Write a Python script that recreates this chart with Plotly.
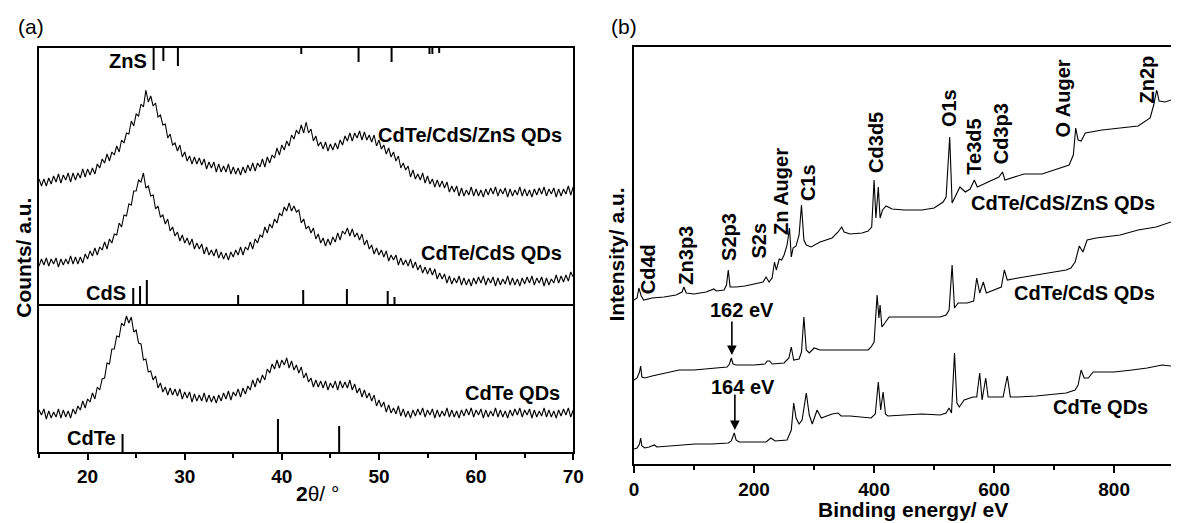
import numpy as np
import plotly.graph_objects as go

FONT = "Liberation Sans, Arial, Helvetica, sans-serif"

# ---------------- Panel (a): XRD (2theta step 0.25 deg, one row per degree) ----------------
two_theta = np.arange(15.0, 70.001, 0.25)

xrd_cdte_cds_zns = [
    125, 118, 125, 118,   # 15
    126, 120, 128, 122,   # 16
    130, 121, 129, 124,   # 17
    131, 122, 131, 124,   # 18
    131, 126, 135, 127,   # 19
    135, 129, 136, 130,   # 20
    140, 136, 145, 141,   # 21
    150, 143, 152, 149,   # 22
    158, 152, 164, 161,   # 23
    171, 170, 183, 178,   # 24
    190, 188, 200, 197,   # 25
    214, 202, 208, 198,   # 26
    201, 187, 189, 179,   # 27
    180, 166, 170, 159,   # 28
    161, 153, 159, 147,   # 29
    152, 143, 148, 140,   # 30
    147, 140, 146, 139,   # 31
    145, 135, 142, 136,   # 32
    142, 132, 140, 132,   # 33
    138, 132, 140, 130,   # 34
    137, 130, 136, 129,   # 35
    137, 131, 139, 133,   # 36
    141, 133, 141, 137,   # 37
    145, 137, 147, 141,   # 38
    149, 146, 156, 149,   # 39
    159, 154, 163, 158,   # 40
    169, 165, 174, 170,   # 41
    179, 171, 182, 171,   # 42
    175, 163, 168, 158,   # 43
    162, 155, 162, 153,   # 44
    160, 154, 161, 155,   # 45
    164, 159, 168, 163,   # 46
    171, 163, 171, 166,   # 47
    173, 164, 172, 164,   # 48
    169, 162, 169, 158,   # 49
    164, 155, 159, 150,   # 50
    156, 147, 152, 143,   # 51
    148, 136, 141, 134,   # 52
    138, 127, 134, 125,   # 53
    130, 124, 131, 121,   # 54
    128, 120, 125, 117,   # 55
    124, 117, 123, 116,   # 56
    122, 112, 118, 112,   # 57
    118, 108, 116, 108,   # 58
    114, 109, 117, 108,   # 59
    115, 108, 114, 107,   # 60
    115, 109, 116, 110,   # 61
    117, 108, 115, 110,   # 62
    116, 107, 115, 108,   # 63
    114, 109, 117, 108,   # 64
    115, 108, 114, 107,   # 65
    115, 109, 116, 110,   # 66
    117, 108, 115, 110,   # 67
    116, 107, 115, 108,   # 68
    115, 110, 118, 109,   # 69
    117]                  # 70

xrd_cdte_cds = [
    38, 45, 39, 46,       # 15
    38, 45, 40, 46,       # 16
    37, 45, 39, 45,       # 17
    40, 48, 40, 47,       # 18
    40, 47, 41, 50,       # 19
    45, 53, 48, 56,       # 20
    49, 57, 54, 62,       # 21
    55, 65, 61, 70,       # 22
    69, 81, 77, 89,       # 23
    88, 100, 99, 113,     # 24
    113, 124, 122, 131,   # 25
    116, 118, 108, 109,   # 26
    95, 98, 87, 89,       # 27
    80, 85, 73, 77,       # 28
    68, 72, 63, 69,       # 29
    61, 66, 59, 65,       # 30
    55, 61, 55, 60,       # 31
    50, 57, 49, 54,       # 32
    48, 55, 46, 52,       # 33
    45, 51, 44, 52,       # 34
    47, 54, 49, 57,       # 35
    49, 57, 54, 62,       # 36
    55, 65, 61, 69,       # 37
    67, 77, 71, 80,       # 38
    76, 85, 81, 91,       # 39
    88, 97, 93, 101,      # 40
    93, 98, 92, 94,       # 41
    81, 85, 75, 78,       # 42
    71, 76, 65, 70,       # 43
    61, 66, 58, 65,       # 44
    59, 67, 62, 71,       # 45
    64, 73, 70, 76,       # 46
    68, 75, 67, 71,       # 47
    64, 70, 59, 64,       # 48
    55, 59, 50, 56,       # 49
    49, 54, 47, 53,       # 50
    43, 49, 44, 49,       # 51
    39, 46, 39, 44,       # 52
    38, 45, 36, 42,       # 53
    34, 39, 31, 37,       # 54
    30, 36, 29, 35,       # 55
    25, 31, 25, 30,       # 56
    21, 28, 20, 26,       # 57
    21, 28, 19, 26,       # 58
    19, 25, 18, 26,       # 59
    20, 27, 21, 28,       # 60
    19, 26, 21, 27,       # 61
    18, 26, 19, 25,       # 62
    20, 28, 19, 26,       # 63
    19, 25, 18, 26,       # 64
    20, 27, 21, 28,       # 65
    19, 26, 21, 27,       # 66
    18, 26, 19, 25,       # 67
    21, 29, 21, 28,       # 68
    22, 29, 23, 32,       # 69
    27]                   # 70

xrd_cdte = [
    42, 37, 43, 33,       # 15
    41, 34, 40, 35,       # 16
    43, 34, 42, 35,       # 17
    41, 34, 43, 38,       # 18
    46, 42, 51, 44,       # 19
    53, 50, 59, 53,       # 20
    65, 62, 73, 74,       # 21
    89, 88, 103, 103,     # 22
    116, 115, 129, 126,   # 23
    136, 129, 135, 120,   # 24
    122, 109, 108, 92,    # 25
    93, 80, 81, 72,       # 26
    76, 64, 69, 60,       # 27
    65, 57, 64, 57,       # 28
    63, 56, 63, 53,       # 29
    60, 54, 60, 50,       # 30
    58, 51, 57, 51,       # 31
    59, 50, 57, 50,       # 32
    56, 49, 57, 51,       # 33
    59, 53, 61, 52,       # 34
    60, 56, 63, 55,       # 35
    64, 58, 66, 62,       # 36
    72, 65, 74, 69,       # 37
    77, 72, 83, 79,       # 38
    88, 83, 92, 84,       # 39
    92, 87, 94, 84,       # 40
    91, 82, 87, 79,       # 41
    85, 74, 79, 70,       # 42
    74, 65, 72, 65,       # 43
    71, 64, 71, 62,       # 44
    69, 64, 71, 62,       # 45
    71, 64, 70, 64,       # 46
    72, 62, 68, 59,       # 47
    64, 55, 62, 54,       # 48
    59, 51, 57, 46,       # 49
    52, 45, 50, 40,       # 50
    47, 39, 44, 38,       # 51
    46, 36, 43, 35,       # 52
    41, 34, 42, 36,       # 53
    43, 37, 44, 35,       # 54
    42, 37, 43, 34,       # 55
    42, 35, 41, 36,       # 56
    44, 35, 42, 35,       # 57
    41, 34, 42, 36,       # 58
    43, 37, 44, 35,       # 59
    42, 37, 43, 34,       # 60
    42, 35, 41, 36,       # 61
    44, 35, 42, 35,       # 62
    41, 34, 42, 36,       # 63
    43, 37, 44, 35,       # 64
    42, 37, 43, 34,       # 65
    42, 35, 41, 36,       # 66
    44, 35, 42, 35,       # 67
    41, 34, 42, 36,       # 68
    43, 37, 44, 35,       # 69
    42]                   # 70

xrd_tick_vals = [20, 30, 40, 50, 60, 70]

zns_ref_pos = [26.8, 27.8, 29.3, 42.0, 47.9, 51.3, 55.2, 55.5, 56.2]
zns_ref_int = [22, 13, 18, 6, 14, 14, 6, 6, 5]
cds_ref_pos = [24.7, 25.4, 26.1, 35.5, 42.2, 46.7, 50.9, 51.6]
cds_ref_int = [16, 18, 24, 9, 14, 15, 13, 7]
cdte_ref_pos = [23.6, 39.6, 45.9]
cdte_ref_int = [18, 33, 26]

# ---------------- Panel (b): XPS survey ----------------
xps_cdte_ev = [0,5,9,11,13,18,25,34,38,60,80,102,130,157,162,165,167,170,175,200,220,228,235,255,262,
               266,270,275,280,287,292,297,305,312,330,340,345,360,380,395,402,407,411,415,419,423,450,
               480,510,520,525,529,534,538,542,550,565,571,576,580,586,590,600,615,622,627,640,670,720,
               735,740,745,750,757,765,800,830,855,880,895]
xps_cdte = [15,16,20,26,18,16,17,19,17,18,19,20,20,21,23,29,31,24,22,22,22,26,23,24,34,61,46,40,44,71,
            49,40,54,46,50,51,48,48,47,46,50,82,54,72,50,48,49,50,49,51,56,51,111,61,57,64,67,67,91,64,
            86,67,67,67,88,67,67,68,71,74,79,94,86,86,92,92,94,96,99,98]

xps_cdte_cds_ev = [0,5,9,11,13,18,30,45,60,75,100,130,155,159,162,165,170,200,218,222,226,230,250,258,
                   262,266,275,279,283,287,292,300,310,350,390,395,400,405,408,410,413,418,425,450,480,
                   510,520,525,530,534,540,555,566,571,576,582,587,600,612,617,622,640,670,720,728,735,
                   742,748,755,770,810,840,870,895]
xps_cdte_cds = [84,86,92,98,87,86,88,90,92,94,94,96,97,100,106,100,99,99,100,103,103,100,101,106,117,
                104,105,112,147,114,111,116,114,114,114,117,122,169,146,159,137,141,147,147,147,147,149,
                154,199,156,161,161,163,186,171,182,171,174,177,194,184,186,189,194,196,202,218,212,224,
                226,229,234,237,242]

xps_cdte_cds_zns_ev = [0,5,8,12,16,30,50,70,80,83,87,100,120,133,137,150,154,157,160,170,185,200,215,
                       220,225,230,234,237,242,246,250,255,259,262,265,270,275,279,283,287,295,310,330,
                       340,346,350,360,380,390,396,400,403,407,410,414,420,430,450,480,500,515,520,526,
                       530,536,543,552,560,567,572,590,608,614,618,650,680,700,725,732,736,740,745,752,
                       780,810,840,860,866,871,875,885,895]
xps_cdte_cds_zns = [164,166,176,168,164,166,167,169,172,177,171,170,172,175,173,174,179,194,177,177,
                    178,180,182,187,182,186,202,194,205,204,209,219,236,207,216,218,229,259,224,219,
                    217,222,226,232,237,232,230,231,233,237,284,246,277,246,254,258,255,254,254,256,
                    262,267,327,261,268,277,272,275,284,277,282,287,292,284,290,290,294,299,309,336,
                    324,323,331,334,336,338,346,359,374,363,362,364]

xps_tick_vals = [0, 200, 400, 600, 800]

peak_labels = ["Cd4d", "Zn3p3", "S2p3", "S2s", "Zn Auger", "C1s", "Cd3d5", "O1s", "Te3d5",
               "Cd3p3", "O Auger", "Zn2p"]
peak_label_ev = [23.5, 86, 158, 209, 245, 290, 403, 525, 566, 612, 714, 854]
peak_label_y = [195, 209, 227, 224, 272, 281, 322, 356, 317, 330, 365, 384]

arrow_text = ["162 eV", "164 eV"]
arrow_ev = [163, 168]
arrow_tip = [109, 34]
arrow_tail = [144, 71]
arrow_label_ev = [180, 181]
arrow_label_y = [154, 77]

TOPA_MAX = 256
BOTA_MAX = 148
B_MAX = 417

fig = go.Figure()

lw_a = 1.1
fig.add_trace(go.Scatter(x=two_theta, y=xrd_cdte_cds_zns, mode="lines",
                         line=dict(color="black", width=lw_a), xaxis="x", yaxis="y"))
fig.add_trace(go.Scatter(x=two_theta, y=xrd_cdte_cds, mode="lines",
                         line=dict(color="black", width=lw_a), xaxis="x", yaxis="y"))
fig.add_trace(go.Scatter(x=two_theta, y=xrd_cdte, mode="lines",
                         line=dict(color="black", width=lw_a), xaxis="x2", yaxis="y2"))


def sticks(pos, ints, base, direction):
    xs, ys = [], []
    for p, h in zip(pos, ints):
        xs += [p, p, None]
        ys += [base, base + direction * h, None]
    return xs, ys


xs, ys = sticks(zns_ref_pos, zns_ref_int, TOPA_MAX, -1)
fig.add_trace(go.Scatter(x=xs, y=ys, mode="lines", line=dict(color="black", width=2),
                         xaxis="x", yaxis="y"))
xs, ys = sticks(cds_ref_pos, cds_ref_int, 0, 1)
fig.add_trace(go.Scatter(x=xs, y=ys, mode="lines", line=dict(color="black", width=2),
                         xaxis="x", yaxis="y"))
xs, ys = sticks(cdte_ref_pos, cdte_ref_int, 0, 1)
fig.add_trace(go.Scatter(x=xs, y=ys, mode="lines", line=dict(color="black", width=2),
                         xaxis="x2", yaxis="y2"))

for ev, val in [(xps_cdte_ev, xps_cdte), (xps_cdte_cds_ev, xps_cdte_cds),
                (xps_cdte_cds_zns_ev, xps_cdte_cds_zns)]:
    fig.add_trace(go.Scatter(x=ev, y=val, mode="lines", line=dict(color="black", width=1.1),
                             xaxis="x3", yaxis="y3"))

W, H = 1182, 523


def fx(px):
    return px / W


def fy(py):
    return 1 - py / H


axis_common = dict(showgrid=False, zeroline=False, linecolor="black", linewidth=2)
tickfont = dict(family=FONT, size=19, color="black")

fig.update_layout(
    width=W, height=H, autosize=False, margin=dict(l=0, r=0, t=0, b=0, pad=0),
    paper_bgcolor="white", plot_bgcolor="white", showlegend=False,
    font=dict(family=FONT, color="black"),
    xaxis=dict(domain=[fx(34.5), fx(576)], range=[15, 70], matches="x2", anchor="y",
               showline=True, mirror=True, ticks="", showticklabels=False, **axis_common),
    yaxis=dict(domain=[fy(304), fy(48)], range=[0, TOPA_MAX], anchor="x",
               showline=True, mirror=True, ticks="", showticklabels=False, **axis_common),
    xaxis2=dict(domain=[fx(34.5), fx(576)], range=[15, 70], anchor="y2",
                showline=True, mirror=False, ticks="outside", ticklen=6, tickwidth=2,
                tickcolor="black", tickmode="array", tickvals=xrd_tick_vals,
                ticktext=["<b>%d</b>" % v for v in xrd_tick_vals], tickfont=tickfont,
                minor=dict(ticks="outside", ticklen=4, tickwidth=2, tickcolor="black",
                           tick0=15, dtick=10),
                **axis_common),
    yaxis2=dict(domain=[fy(452), fy(304)], range=[0, BOTA_MAX], anchor="x2",
                showline=True, mirror=True, ticks="", showticklabels=False, **axis_common),
    xaxis3=dict(domain=[fx(637.7), 1.0], range=[0, (W - 637.7) / 0.6083], anchor="y3",
                showline=True, mirror=True, ticks="outside", ticklen=7, tickwidth=2,
                tickcolor="black", tickmode="array", tickvals=xps_tick_vals,
                ticktext=["<b>%d</b>" % v for v in xps_tick_vals], tickfont=tickfont,
                minor=dict(ticks="outside", ticklen=4, tickwidth=2, tickcolor="black",
                           tick0=100, dtick=200),
                **axis_common),
    yaxis3=dict(domain=[fy(464), fy(47)], range=[0, B_MAX], anchor="x3",
                showline=True, mirror=False, ticks="", showticklabels=False, **axis_common),
)

ann = []


def add_text(text, x, y, xref, yref, size=20, angle=0, xanchor="center", yanchor="middle"):
    ann.append(dict(text=text, x=x, y=y, xref=xref, yref=yref, showarrow=False,
                    textangle=angle, xanchor=xanchor, yanchor=yanchor,
                    font=dict(family=FONT, size=size, color="black")))


# panel letters
add_text("(a)", fx(26), fy(27), "paper", "paper", size=21)
add_text("(b)", fx(627), fy(27), "paper", "paper", size=21)

# axis titles
add_text("<b>Counts/ a.u.</b>", fx(18), fy(258), "paper", "paper", size=21, angle=-90)
add_text("<b>2</b>θ/ °", fx(317), fy(493), "paper", "paper", size=21)
add_text("<b>Intensity/ a.u.</b>", fx(619), fy(255), "paper", "paper", size=21, angle=-90)
add_text("<b>Binding energy/ eV</b>", fx(920), fy(509), "paper", "paper", size=21)

# panel (a) labels
add_text("<b>CdTe/CdS/ZnS QDs</b>", 59.4, 169, "x", "y")
add_text("<b>CdTe/CdS QDs</b>", 61.6, 51, "x", "y")
add_text("<b>CdTe QDs</b>", 63.8, 59, "x2", "y2")
add_text("<b>ZnS</b>", 26.3, 243, "x", "y", xanchor="right")
add_text("<b>CdS</b>", 24.2, 11, "x", "y", xanchor="right")
add_text("<b>CdTe</b>", 23.1, 14, "x2", "y2", xanchor="right")

# panel (b) labels
for t, xv, yv in zip(peak_labels, peak_label_ev, peak_label_y):
    add_text("<b>%s</b>" % t, xv, yv, "x3", "y3", angle=-90)
add_text("<b>CdTe/CdS/ZnS QDs</b>", 714, 261, "x3", "y3")
add_text("<b>CdTe/CdS QDs</b>", 750, 171, "x3", "y3")
add_text("<b>CdTe QDs</b>", 776.6, 57, "x3", "y3")

for t, xv, tip, tail, lx, ly in zip(arrow_text, arrow_ev, arrow_tip, arrow_tail,
                                     arrow_label_ev, arrow_label_y):
    ann.append(dict(x=xv, y=tip, ax=xv, ay=tail, xref="x3", yref="y3", axref="x3", ayref="y3",
                    showarrow=True, arrowhead=2, arrowsize=1.2, arrowwidth=1.6,
                    arrowcolor="black", text=""))
    add_text("<b>%s</b>" % t, lx, ly, "x3", "y3")

fig.update_layout(annotations=ann)

post_js = ("document.documentElement.style.margin='0';document.documentElement.style.padding='0';"
           "document.body.style.margin='0';document.body.style.padding='0';"
           "document.body.style.overflow='hidden';"
           "var gd=document.getElementById('{plot_id}');"
           "gd.style.position='absolute';gd.style.left='0px';gd.style.top='0px';"
           "Plotly.relayout(gd,{width:1182,height:523});")

fig.write_html("out.html", config={"responsive": False, "displayModeBar": False},
               post_script=post_js)
